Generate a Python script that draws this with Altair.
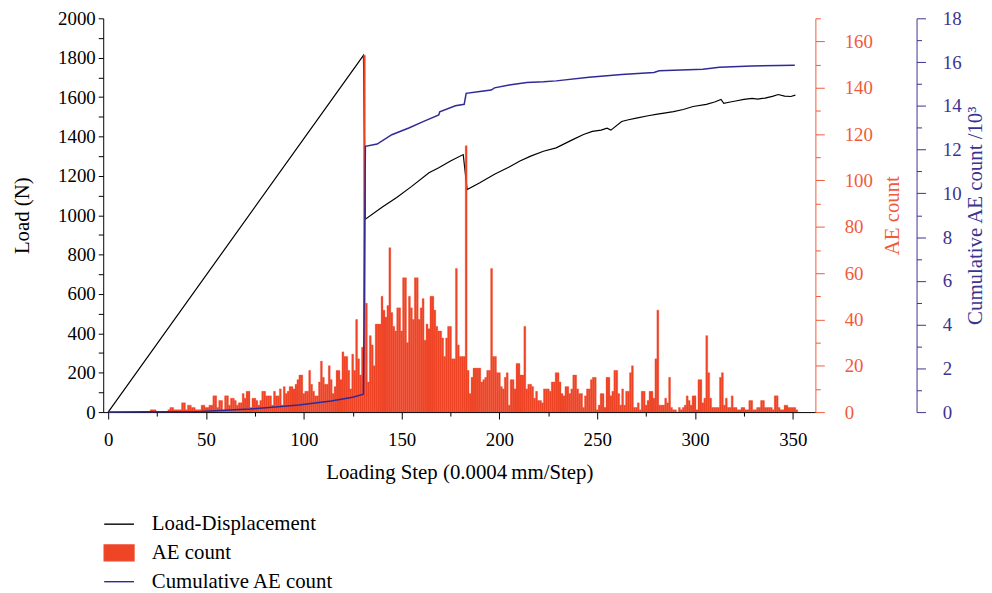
import altair as alt
import pandas as pd

# ---------------- data ----------------
ae_steps = list(range(353))
ae_count = [
    0, 0, 0, 0, 0, 0, 0, 0, 0, 0,
    0, 0, 0, 0, 0, 0, 0, 0, 0, 0,
    0, 0, 1, 1, 1, 0, 0, 0, 0, 0,
    0, 1, 2, 2, 1, 1, 1, 1, 4, 4,
    1, 3, 3, 2, 2, 1, 1, 1, 3, 3,
    2, 2, 3, 3, 7, 7, 2, 5, 5, 1,
    7, 7, 3, 6, 6, 5, 3, 4, 4, 8,
    6, 9, 9, 2, 6, 6, 5, 3, 5, 9,
    9, 7, 7, 7, 3, 9, 7, 7, 10, 3,
    11, 8, 9, 11, 11, 10, 12, 14, 16, 16,
    8, 9, 9, 18, 12, 9, 7, 7, 13, 22,
    15, 12, 12, 20, 14, 8, 11, 18, 18, 14,
    26, 24, 24, 18, 10, 25, 18, 40, 23, 16,
    28, 154, 47, 13, 33, 29, 20, 38, 38, 38,
    50, 44, 41, 46, 71, 43, 37, 35, 45, 45,
    35, 58, 58, 30, 50, 45, 40, 58, 58, 40,
    45, 49, 31, 38, 36, 50, 50, 44, 37, 35,
    35, 32, 24, 32, 37, 37, 23, 23, 62, 29,
    24, 24, 24, 115, 18, 8, 15, 19, 19, 19,
    19, 13, 14, 15, 18, 18, 62, 24, 24, 17,
    17, 11, 10, 15, 17, 3, 14, 14, 10, 21,
    21, 16, 16, 37, 10, 12, 12, 11, 6, 9,
    5, 5, 4, 10, 10, 10, 9, 13, 13, 17,
    17, 13, 8, 7, 11, 11, 8, 10, 16, 16,
    10, 8, 8, 2, 7, 10, 10, 14, 15, 15,
    1, 3, 8, 8, 2, 15, 15, 7, 9, 18,
    18, 8, 3, 10, 3, 9, 9, 17, 20, 2,
    2, 4, 1, 9, 9, 3, 5, 9, 9, 6,
    23, 44, 3, 3, 3, 6, 4, 15, 2, 1,
    1, 0, 2, 1, 2, 3, 7, 5, 3, 7,
    7, 1, 14, 14, 4, 6, 33, 17, 6, 2,
    2, 2, 2, 15, 17, 3, 6, 2, 2, 7,
    2, 2, 1, 1, 2, 2, 1, 1, 5, 5,
    1, 1, 2, 2, 5, 5, 2, 2, 2, 2,
    1, 7, 7, 2, 1, 1, 3, 3, 2, 2,
    2, 2, 1,
]

load_steps = [0, 130.5, 131.5, 140, 147.5, 155, 164, 169, 175, 181.5,
              183.5, 190, 197.5, 205, 210.5, 216, 222.5, 229, 237.5, 243,
              247.5, 252, 255, 257, 262.5, 266, 270, 276, 280.8, 285,
              289, 294, 299, 305.8, 310, 313.3, 314.7, 318, 320.8, 325,
              329.2, 332, 335.8, 340, 342.5, 345.8, 349, 351.3]
load_vals = [0, 1812, 980, 1040, 1090, 1145, 1216, 1241, 1275, 1308,
             1130, 1165, 1208, 1245, 1275, 1300, 1325, 1342, 1384, 1410,
             1426, 1432, 1442, 1432, 1476, 1485, 1493, 1505, 1513, 1520,
             1526, 1537, 1552, 1563, 1575, 1588, 1568, 1575, 1580, 1588,
             1593, 1590, 1595, 1605, 1613, 1605, 1603, 1610]

cum_steps = [0, 20, 47.5, 72.5, 97.5, 114, 125, 130.5, 131.5, 137.5,
             145, 154, 161, 169, 169.5, 177.5, 182, 183, 190, 195.8,
             197.5, 205, 214, 222.5, 229, 245.8, 262.5, 279, 281.7, 304,
             312.5, 329, 351]
cum_vals = [0, 0.01, 0.03, 0.14, 0.32, 0.51, 0.68, 0.82, 12.15, 12.25,
            12.68, 13.0, 13.28, 13.58, 13.73, 14.0, 14.07, 14.57, 14.65, 14.72,
            14.82, 14.95, 15.07, 15.1, 15.14, 15.31, 15.43, 15.52, 15.6, 15.67,
            15.76, 15.82, 15.85]

x_ticks = list(range(0, 351, 25))
load_ticks = list(range(0, 2001, 100))
ae_ticks = list(range(0, 171, 10))
cum_ticks = list(range(0, 19, 1))

# ---------------- style ----------------
SERIF = "'Liberation Serif', 'DejaVu Serif', serif"
ORANGE = "#EF4527"
ORANGE_AX = "#F15A3B"
BLUE = "#2F2A98"
BLUE_AX = "#3B3391"
FS = 19      # tick labels
TFS = 21     # titles and legend

load_df = pd.DataFrame({"step": load_steps, "load": load_vals})
load_df["series"] = "Load-Displacement"
ae_df = pd.DataFrame({"step": ae_steps, "count": ae_count})
ae_df["series"] = "AE count"
cum_df = pd.DataFrame({"step": cum_steps, "cum": cum_vals})
cum_df["series"] = "Cumulative AE count"

x_scale = alt.Scale(domain=[0, 359], nice=False)


def x_axis():
    return alt.Axis(
        values=x_ticks,
        labelExpr="datum.value % 50 === 0 ? datum.label : ''",
        tickSize={"condition": {"test": "datum.value % 50 === 0", "value": 7}, "value": 4},
        labelPadding=12,
        titlePadding=12,
        domainColor="black",
        tickColor="black",
        labelColor="black",
        titleColor="black",
        labelOverlap=False,
        format="d",
    )


X_TITLE = "Loading Step (0.0004\u2009mm/Step)"


def legend(y, symbol):
    return alt.Legend(
        title=None,
        orient="none",
        legendX=5,
        legendY=y,
        padding=0,
        symbolType=symbol,
        symbolSize=400,
        symbolStrokeWidth=1.4,
        labelFont=SERIF,
        labelFontSize=TFS,
        labelColor="black",
        labelOffset=22,
        labelLimit=400,
    )


LINE_SYM = "M-1.5,0H1.5"
RECT_SYM = "M-1.5,-0.8H1.5V0.8H-1.5Z"

load_layer = alt.Chart(load_df).mark_line(strokeWidth=1.2).encode(
    x=alt.X("step:Q", scale=x_scale, axis=x_axis(), title=X_TITLE),
    y=alt.Y(
        "load:Q",
        scale=alt.Scale(domain=[0, 2000], nice=False),
        title="Load (N)",
        axis=alt.Axis(
            orient="left",
            values=load_ticks,
            labelExpr="datum.value % 200 === 0 ? datum.label : ''",
            format="d",
            tickSize=5,
            labelPadding=3,
            titlePadding=25,
            domainColor="black",
            tickColor="black",
            labelColor="black",
            titleColor="black",
            labelOverlap=False,
        ),
    ),
    stroke=alt.Stroke(
        "series:N",
        scale=alt.Scale(domain=["Load-Displacement"], range=["black"]),
        legend=legend(499, LINE_SYM),
    ),
)

bar_layer = alt.Chart(ae_df).transform_calculate(
    x0="datum.step - 0.5", x1="datum.step + 0.5", base="0"
).mark_bar(clip=True, orient="vertical", stroke=ORANGE, strokeWidth=0.3).encode(
    x=alt.X("x0:Q", scale=x_scale, axis=x_axis(), title=X_TITLE),
    x2="x1:Q",
    y=alt.Y(
        "count:Q",
        scale=alt.Scale(domain=[0, 170], nice=False),
        title="AE count",
        axis=alt.Axis(
            orient="right",
            values=ae_ticks,
            labelExpr="datum.value % 20 === 0 ? datum.label : ''",
            format="d",
            tickSize={"condition": {"test": "datum.value % 20 === 0", "value": 9}, "value": 5},
            labelPadding=20,
            titlePadding=9,
            titleAngle=270,
            titleBaseline="top",
            domainColor=ORANGE_AX,
            tickColor=ORANGE_AX,
            labelColor=ORANGE_AX,
            titleColor=ORANGE_AX,
            labelOverlap=False,
        ),
    ),
    y2="base:Q",
    fill=alt.Fill(
        "series:N",
        scale=alt.Scale(domain=["AE count"], range=[ORANGE]),
        legend=legend(528, RECT_SYM),
    ),
)

cum_layer = alt.Chart(cum_df).mark_line(strokeWidth=1.5).encode(
    x=alt.X("step:Q", scale=x_scale, axis=x_axis(), title=X_TITLE),
    y=alt.Y(
        "cum:Q",
        scale=alt.Scale(domain=[0, 18], nice=False),
        title="Cumulative AE count /10\u00b3",
        axis=alt.Axis(
            orient="right",
            offset=102,
            values=cum_ticks,
            labelExpr="datum.value % 2 === 0 ? datum.label : ''",
            format="d",
            tickSize={"condition": {"test": "datum.value % 2 === 0", "value": 9}, "value": 5},
            labelPadding=17,
            titlePadding=3,
            titleAngle=270,
            titleBaseline="top",
            domainColor=BLUE_AX,
            tickColor=BLUE_AX,
            labelColor=BLUE_AX,
            titleColor=BLUE_AX,
            labelOverlap=False,
        ),
    ),
    color=alt.Color(
        "series:N",
        scale=alt.Scale(domain=["Cumulative AE count"], range=[BLUE]),
        legend=legend(557, LINE_SYM),
    ),
)

chart = alt.layer(load_layer, bar_layer, cum_layer).resolve_scale(
    y="independent"
).properties(
    width=718,
    height=397,
    autosize=alt.AutoSizeParams(type="none"),
    padding={"left": 96, "top": 8, "right": 170, "bottom": 180},
).configure_view(
    stroke=None
).configure_axis(
    grid=False,
    labelFont=SERIF,
    labelFontSize=FS,
    titleFont=SERIF,
    titleFontSize=TFS,
    titleFontWeight="normal",
    domainWidth=1,
    tickWidth=1,
)

chart.save("out.html", embed_options={"renderer": "svg", "actions": False})
